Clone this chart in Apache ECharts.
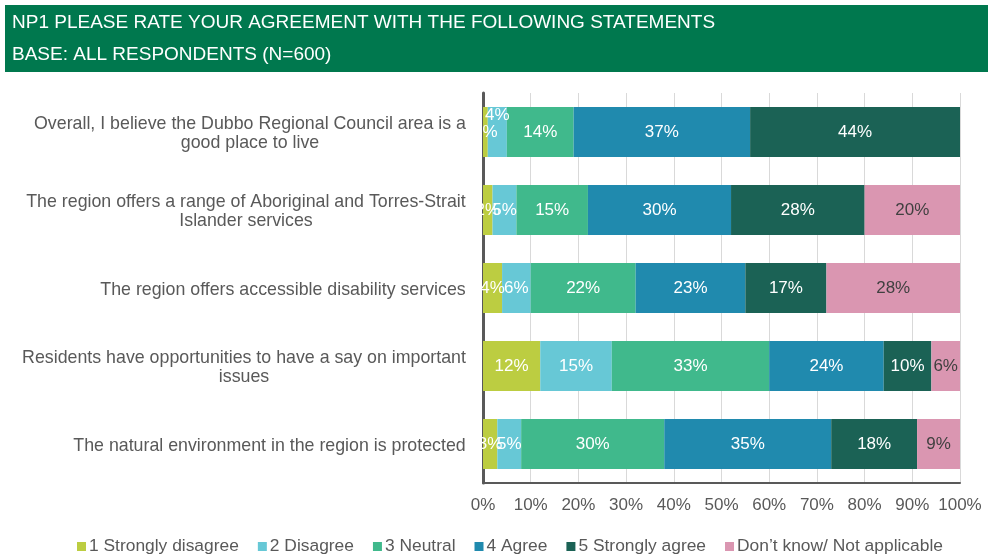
<!DOCTYPE html>
<html>
<head>
<meta charset="utf-8">
<title>NP1 Agreement with statements</title>
<script src="https://cdn.jsdelivr.net/npm/echarts@6/dist/echarts.min.js"></script>
<style>
  html, body { margin: 0; padding: 0; background: #ffffff; }
  #chart { width: 995px; height: 558px; }
</style>
</head>
<body>
<div id="chart"></div>
<script>
// Statements (top to bottom)
const categories = [
  'Overall, I believe the Dubbo Regional Council area is a\ngood place to live',
  'The region offers a range of Aboriginal and Torres-Strait\nIslander services',
  'The region offers accessible disability services',
  'Residents have opportunities to have a say on important\nissues',
  'The natural environment in the region is protected'
];

// Response scale
const seriesNames = [
  '1 Strongly disagree',
  '2 Disagree',
  '3 Neutral',
  '4 Agree',
  '5 Strongly agree',
  'Don\u2019t know/ Not applicable'
];

// Percentages per statement
const stronglyDisagree = [1, 2, 4, 12, 3];
const disagree         = [4, 5, 6, 15, 5];
const neutral          = [14, 15, 22, 33, 30];
const agree            = [37, 30, 23, 24, 35];
const stronglyAgree    = [44, 28, 17, 10, 18];
const dontKnow         = [0, 20, 28, 6, 9];

const xTicks = [0, 10, 20, 30, 40, 50, 60, 70, 80, 90, 100];

const seriesValues = [stronglyDisagree, disagree, neutral, agree, stronglyAgree, dontKnow];
const colors = ['#BCCD41', '#67C8D6', '#40B98C', '#208AAE', '#1B6255', '#DA96B1'];
const labelColors = ['#ffffff', '#ffffff', '#ffffff', '#ffffff', '#ffffff', '#404040'];

const FONT = '"Liberation Sans", Arial, sans-serif';
const CAT_SIZE = 17.8;

// Measure each statement so wrapped lines can be centred within the block
const ctx = document.createElement('canvas').getContext('2d');
ctx.font = CAT_SIZE + 'px ' + FONT;
const rich = {};
categories.forEach(function (c, i) {
  const w = Math.max.apply(null, c.split('\n').map(function (l) { return ctx.measureText(l).width; }));
  rich['c' + i] = { width: Math.ceil(w), align: 'center', fontSize: CAT_SIZE, lineHeight: 19, color: '#595959', fontFamily: FONT };
});

const series = seriesValues.map(function (vals, s) {
  return {
    name: seriesNames[s],
    type: 'bar',
    stack: 'total',
    barWidth: 50,
    itemStyle: { color: colors[s] },
    label: {
      show: true,
      position: 'inside',
      color: labelColors[s],
      fontSize: 17,
      fontFamily: FONT,
      formatter: function (p) { return p.value > 0 ? p.value + '%' : ''; }
    },
    data: vals.map(function (v, i) {
      // the small "Disagree" label on the first statement sits above its segment
      if (s === 1 && i === 0) {
        return { value: v, label: { offset: [0, -17] } };
      }
      return v;
    })
  };
});

const chart = echarts.init(document.getElementById('chart'), null, { renderer: 'canvas' });
chart.setOption({
  animation: false,
  color: colors,
  graphic: [
    { type: 'rect', left: 5, top: 5, shape: { width: 983, height: 67 }, style: { fill: '#00784E' }, silent: true },
    { type: 'text', left: 12, top: 13, style: { text: 'NP1 PLEASE RATE YOUR AGREEMENT WITH THE FOLLOWING STATEMENTS', fill: '#ffffff', font: '19px ' + FONT } },
    { type: 'text', left: 12, top: 45, style: { text: 'BASE: ALL RESPONDENTS (N=600)', fill: '#ffffff', font: '19px ' + FONT } }
  ],
  legend: {
    data: seriesNames,
    left: 72,
    top: 533,
    itemWidth: 9,
    itemHeight: 9,
    itemGap: 19,
    icon: 'rect',
    textStyle: { fontSize: 17.4, color: '#595959', fontFamily: FONT, padding: [0, 0, 0, -2] }
  },
  grid: { left: 483, right: 35, top: 93, bottom: 75, containLabel: false },
  xAxis: {
    type: 'value',
    min: xTicks[0],
    max: xTicks[xTicks.length - 1],
    interval: 10,
    axisLine: { show: true, lineStyle: { color: '#595959', width: 2 } },
    axisTick: { show: false },
    splitLine: { show: true, lineStyle: { color: '#D9D9D9', width: 1 } },
    axisLabel: { margin: 14, fontSize: 17, color: '#595959', fontFamily: FONT, formatter: '{value}%' }
  },
  yAxis: {
    type: 'category',
    inverse: true,
    data: categories,
    axisLine: { show: true, lineStyle: { color: '#595959', width: 3 } },
    axisTick: { show: false },
    axisLabel: {
      margin: 17,
      fontSize: CAT_SIZE,
      color: '#595959',
      fontFamily: FONT,
      padding: [4, 0, 0, 0],
      formatter: function (value, idx) {
        return value.split('\n').map(function (l) { return '{c' + idx + '|' + l + '}'; }).join('\n');
      },
      rich: rich
    }
  },
  series: series
});
</script>
</body>
</html>
